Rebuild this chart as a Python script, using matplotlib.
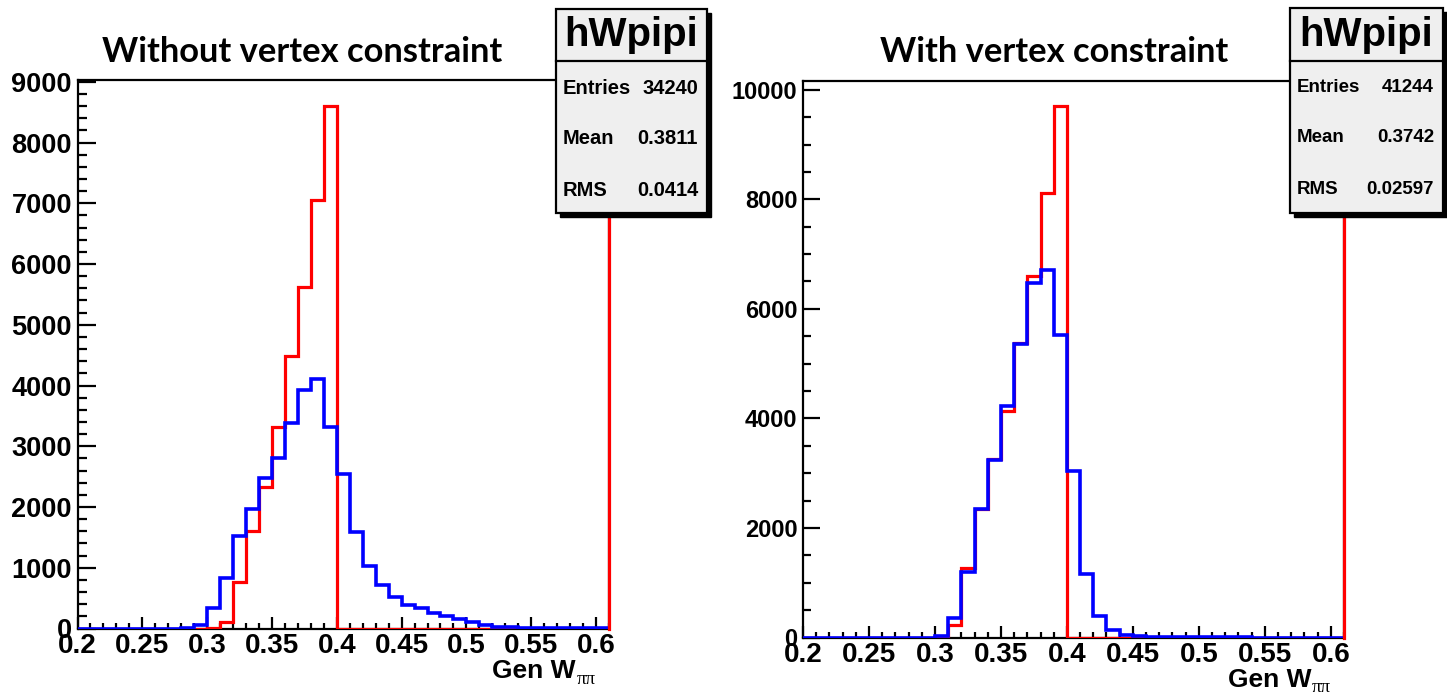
import matplotlib
matplotlib.use("Agg")
import matplotlib.pyplot as plt
import numpy as np
from matplotlib.patches import Rectangle
from matplotlib.lines import Line2D
from matplotlib.ticker import MultipleLocator

# ---------------- data ----------------
x_min, x_max, n_bins = 0.20, 0.61, 41

left_red = [0, 0, 0, 0, 0, 0, 0, 0, 0, 0,
            15, 100, 760, 1605, 2335, 3311, 4479, 5623, 7054, 8605,
            0, 0, 0, 0, 0, 0, 0, 0, 0, 0,
            0, 0, 0, 0, 0, 0, 0, 0, 0, 0, 0]
left_blue = [0, 0, 0, 0, 0, 0, 0, 0, 5, 60,
             341, 838, 1521, 1970, 2473, 2808, 3383, 3934, 4114, 3323,
             2551, 1581, 1036, 713, 521, 389, 341, 251, 210, 162,
             102, 54, 30, 20, 12, 8, 5, 4, 3, 2, 1]
right_red = [0, 0, 0, 0, 0, 0, 0, 0, 0, 0,
             10, 232, 1268, 2344, 3260, 4137, 5385, 6607, 8114, 9695,
             0, 0, 0, 0, 0, 0, 0, 0, 0, 0,
             0, 0, 0, 0, 0, 0, 0, 0, 0, 0, 0]
right_blue = [0, 0, 0, 0, 0, 0, 0, 0, 0, 0,
              20, 365, 1195, 2344, 3240, 4223, 5365, 6474, 6713, 5518,
              3041, 1162, 385, 139, 53, 27, 15, 10, 8, 5,
              3, 2, 1, 1, 0, 0, 0, 0, 0, 0, 0]

x_ticks = [0.2, 0.25, 0.3, 0.35, 0.4, 0.45, 0.5, 0.55, 0.6]
x_tick_labels = ["0.2", "0.25", "0.3", "0.35", "0.4", "0.45", "0.5", "0.55", "0.6"]
left_y_ticks = [0, 1000, 2000, 3000, 4000, 5000, 6000, 7000, 8000, 9000]
right_y_ticks = [0, 2000, 4000, 6000, 8000, 10000]
left_ymax, right_ymax = 9030, 10160

titles = ["Without vertex constraint", "With vertex constraint"]
hist_name = "hWpipi"
stat_names = ["Entries", "Mean", "RMS"]
left_stats = ["34240", "0.3811", "0.0414"]
right_stats = ["41244", "0.3742", "0.02597"]

# ---------------- layout ----------------
W, H = 1447, 699
fig = plt.figure(figsize=(W / 100, H / 100), dpi=100)
fig.patch.set_facecolor("white")

def rect(x0, y0, x1, y1):
    return [x0 / W, 1 - y1 / H, (x1 - x0) / W, (y1 - y0) / H]

edges = np.linspace(x_min, x_max, n_bins + 1)
ROOT = "Liberation Sans"

def draw_panel(r, red, blue, ymax, yticks, yminor, ylab_size, ymaj_len, ymin_len):
    ax = fig.add_axes(rect(*r))
    ax.stairs(red, edges, color="#ff0000", lw=2.3, baseline=0, zorder=3)
    ax.stairs(blue, edges, color="#0000ff", lw=2.6, baseline=0, zorder=4)
    ax.axvline(x_max, color="#ff0000", lw=2.3, zorder=5, clip_on=False)
    ax.set_xlim(x_min, x_max)
    ax.set_ylim(0, ymax)
    ax.set_xticks(x_ticks)
    ax.set_xticklabels(x_tick_labels)
    ax.xaxis.set_minor_locator(MultipleLocator(0.01))
    ax.set_yticks(yticks)
    ax.set_yticklabels([str(v) for v in yticks])
    ax.yaxis.set_minor_locator(MultipleLocator(yminor))
    ax.tick_params(axis="x", which="major", direction="in", length=9, width=1.6,
                   pad=3, labelsize=20)
    ax.tick_params(axis="x", which="minor", direction="in", length=4.5, width=1.6)
    ax.tick_params(axis="y", which="major", direction="in", length=ymaj_len, width=1.6,
                   pad=4, labelsize=ylab_size)
    ax.tick_params(axis="y", which="minor", direction="in", length=ymin_len, width=1.6)
    for lab in ax.get_xticklabels() + ax.get_yticklabels():
        lab.set_fontfamily(ROOT)
        lab.set_fontweight("bold")
    for s in ax.spines.values():
        s.set_linewidth(1.6)
        s.set_color("black")
    return ax

axL = draw_panel((77.5, 80, 609, 628.5), left_red, left_blue, left_ymax,
                 left_y_ticks, 200, 19.5, 13, 6.5)
axR = draw_panel((803, 81, 1344, 637.5), right_red, right_blue, right_ymax,
                 right_y_ticks, 500, 17, 12, 6)

# titles
fig.text(302 / W, 1 - 52 / H, titles[0], ha="center", va="center",
         fontfamily="Lato", fontweight="bold", fontsize=24.8)
fig.text(1054 / W, 1 - 52 / H, titles[1], ha="center", va="center",
         fontfamily="Lato", fontweight="bold", fontsize=24.8)

# x axis labels
def xlabel(x_right_gen, y, size):
    fig.text(x_right_gen / W, 1 - y / H, "Gen W", ha="right", va="center",
             fontfamily=ROOT, fontweight="bold", fontsize=size)
    fig.text((x_right_gen + 1) / W, 1 - (y + 8) / H, "\u03c0\u03c0", ha="left",
             va="center", fontfamily="Liberation Serif", fontsize=size * 0.72)

xlabel(576, 671, 19)
xlabel(1311, 680, 19)

# stats boxes
def stats_box(x0, y0, x1, y1, ydiv, rows_y, vals, size, hdr_size):
    sh = 4
    fig.add_artist(Rectangle(((x0 + sh) / W, 1 - (y1 + sh) / H),
                             (x1 - x0) / W, (y1 - y0) / H, transform=fig.transFigure,
                             facecolor="black", edgecolor="black", zorder=10))
    fig.add_artist(Rectangle((x0 / W, 1 - y1 / H), (x1 - x0) / W, (y1 - y0) / H,
                             transform=fig.transFigure, facecolor="#efefef",
                             edgecolor="black", lw=1.6, zorder=11))
    fig.add_artist(Line2D([x0 / W, x1 / W], [1 - ydiv / H, 1 - ydiv / H],
                          transform=fig.transFigure, color="black", lw=1.6, zorder=12))
    fig.text((x0 + x1) / 2 / W, 1 - (y0 + ydiv) / 2 / H, hist_name, ha="center",
             va="center", fontfamily=ROOT, fontweight="bold", fontsize=hdr_size, zorder=13)
    for name, val, yy in zip(stat_names, vals, rows_y):
        fig.text((x0 + 7) / W, 1 - yy / H, name, ha="left", va="center",
                 fontfamily=ROOT, fontweight="bold", fontsize=size, zorder=13)
        fig.text((x1 - 9) / W, 1 - yy / H, val, ha="right", va="center",
                 fontfamily=ROOT, fontweight="bold", fontsize=size, zorder=13)

stats_box(556, 9, 707, 213, 61, [88, 138, 190], left_stats, 14.5, 29)
stats_box(1290, 8, 1443, 213, 61, [87, 137, 190], right_stats, 13.5, 29)

fig.savefig("out.png", dpi=100)
